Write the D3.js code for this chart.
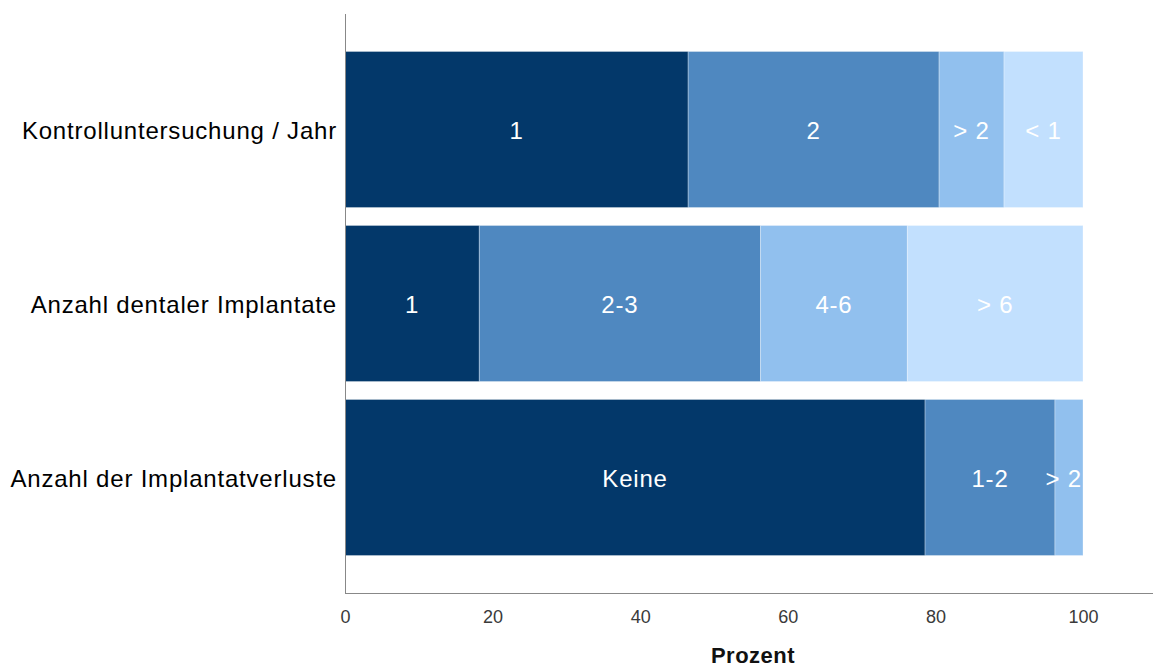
<!DOCTYPE html>
<html>
<head>
<meta charset="utf-8">
<script src="https://cdn.jsdelivr.net/npm/d3@7"></script>
<style>
  html, body { margin: 0; padding: 0; background: #fff; }
  svg { display: block; }
</style>
</head>
<body>
<svg id="chart" width="1154" height="669"></svg>
<script>
// Survey items (rows, top to bottom)
const categories = [
  "Kontrolluntersuchung / Jahr",
  "Anzahl dentaler Implantate",
  "Anzahl der Implantatverluste"
];

// Answer categories per row, in stacking order
const segmentLabels = [
  ["1", "2", "> 2", "< 1"],
  ["1", "2-3", "4-6", "> 6"],
  ["Keine", "1-2", "> 2"]
];

// Percent share per answer category
const segmentValues = [
  [46.5, 34.0, 8.8, 10.7],
  [18.2, 38.1, 19.9, 23.8],
  [78.6, 17.6, 3.8]
];

const xTicks = [0, 20, 40, 60, 80, 100];
const xTitle = "Prozent";

const palette = ["#03386a", "#4f88c0", "#91c0ee", "#c2e0fe"];

(function draw() {
  const svg = d3.select("#chart");
  const plotLeft = 345, plotRight = 1083, plotTop = 14, plotBottom = 593, axisEnd = 1153;
  const font = "'Liberation Sans', Arial, sans-serif";

  const x = d3.scaleLinear().domain([0, 100]).range([plotLeft, plotRight]);
  const y = d3.scaleBand()
    .domain(categories)
    .range([plotTop, plotBottom])
    .paddingInner(0.1034)
    .paddingOuter(0.2155);

  // Build stacked segments
  const segs = [];
  categories.forEach((cat, i) => {
    let acc = 0;
    segmentValues[i].forEach((v, j) => {
      segs.push({ cat, label: segmentLabels[i][j], x0: acc, x1: acc + v, color: palette[j] });
      acc += v;
    });
  });

  const g = svg.append("g");
  g.selectAll("rect.seg")
    .data(segs)
    .enter().append("rect")
    .attr("class", "seg")
    .attr("x", d => x(d.x0))
    .attr("y", d => y(d.cat))
    .attr("width", d => x(d.x1) - x(d.x0))
    .attr("height", y.bandwidth())
    .attr("fill", d => d.color)
    .attr("stroke", "rgba(255,255,255,0.3)")
    .attr("stroke-width", 1);

  // Segment labels, centred in each segment and kept inside the bar end
  const labels = g.selectAll("text.seglab")
    .data(segs)
    .enter().append("text")
    .attr("class", "seglab")
    .attr("y", d => y(d.cat) + y.bandwidth() / 2)
    .attr("dy", "0.4em")
    .attr("text-anchor", "middle")
    .attr("font-family", font)
    .attr("font-size", 24)
    .attr("letter-spacing", "0.8px")
    .attr("fill", "#ffffff")
    .text(d => d.label);
  labels.each(function(d) {
    const w = this.getComputedTextLength();
    const cx = (x(d.x0) + x(d.x1)) / 2;
    const maxX = x(100) - w / 2 - 1;
    d3.select(this).attr("x", Math.min(cx, maxX));
  });

  // Axis lines
  svg.append("line")
    .attr("x1", plotLeft + 0.5).attr("x2", plotLeft + 0.5)
    .attr("y1", plotTop).attr("y2", plotBottom)
    .attr("stroke", "#888").attr("stroke-width", 1);
  svg.append("line")
    .attr("x1", plotLeft).attr("x2", axisEnd)
    .attr("y1", plotBottom + 0.5).attr("y2", plotBottom + 0.5)
    .attr("stroke", "#888").attr("stroke-width", 1);

  // X axis tick labels
  const xAxis = d3.axisBottom(x).tickValues(xTicks).tickSize(0).tickPadding(17);
  const xg = svg.append("g").attr("transform", `translate(0,${plotBottom})`).call(xAxis);
  xg.select(".domain").remove();
  xg.selectAll("text")
    .attr("font-family", font)
    .attr("font-size", 18)
    .attr("fill", "#3a3a3a");

  // Category labels
  const yAxis = d3.axisLeft(y).tickSize(0).tickPadding(8);
  const yg = svg.append("g").attr("transform", `translate(${plotLeft},0)`).call(yAxis);
  yg.select(".domain").remove();
  yg.selectAll("text")
    .attr("font-family", font)
    .attr("font-size", 24)
    .attr("letter-spacing", "0.8px")
    .attr("dy", "0.4em")
    .attr("fill", "#000");

  // Axis title, centred under the full axis line
  svg.append("text")
    .attr("x", (plotLeft + axisEnd) / 2 + 4).attr("y", 663)
    .attr("text-anchor", "middle")
    .attr("font-family", font)
    .attr("font-weight", "bold")
    .attr("font-size", 22)
    .attr("letter-spacing", "0.5px")
    .attr("fill", "#111")
    .text(xTitle);
})();
</script>
</body>
</html>
